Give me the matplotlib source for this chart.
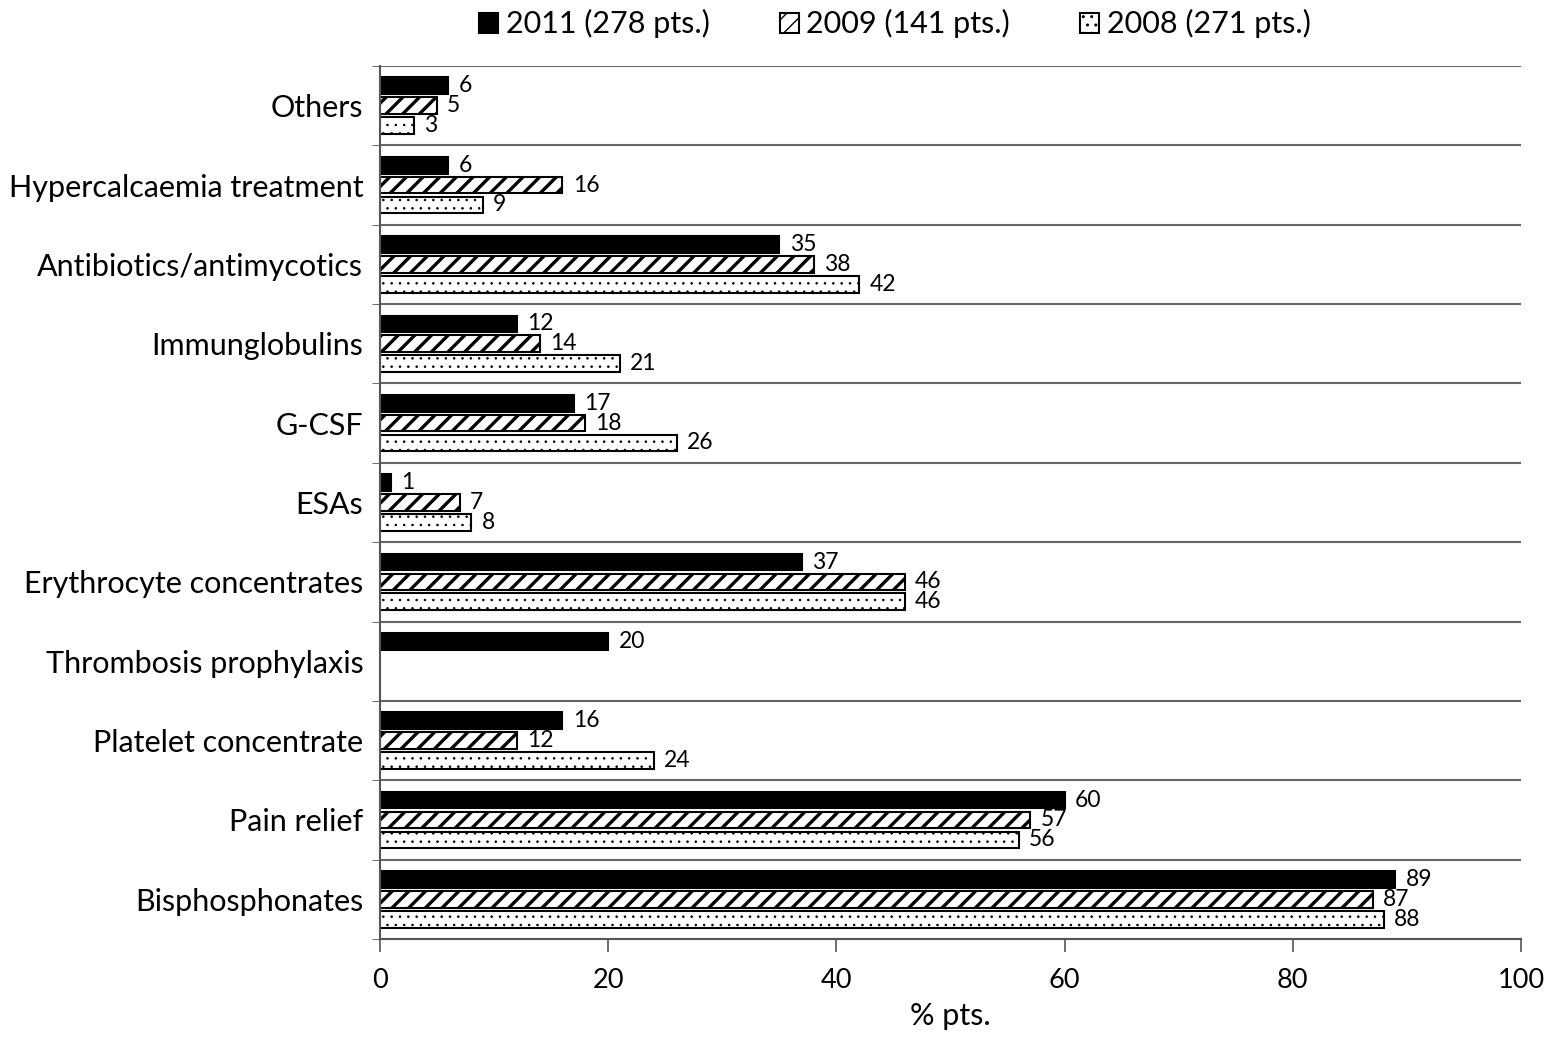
import numpy as np
import matplotlib
matplotlib.use("Agg")
import matplotlib.pyplot as plt
from matplotlib.patches import Patch

plt.rcParams['font.family'] = ['Lato', 'DejaVu Sans']

# categories, listed bottom to top
categories = ["Bisphosphonates", "Pain relief", "Platelet concentrate",
              "Thrombosis prophylaxis", "Erythrocyte concentrates", "ESAs",
              "G-CSF", "Immunglobulins", "Antibiotics/antimycotics",
              "Hypercalcaemia treatment", "Others"]
v2011 = [89, 60, 16, 20, 37, 1, 17, 12, 35, 6, 6]
v2009 = [87, 57, 12, None, 46, 7, 18, 14, 38, 16, 5]
v2008 = [88, 56, 24, None, 46, 8, 26, 21, 42, 9, 3]
series_labels = ["2011 (278 pts.)", "2009 (141 pts.)", "2008 (271 pts.)"]
x_ticks = [0, 20, 40, 60, 80, 100]

fig = plt.figure(figsize=(15.59, 10.39), dpi=100)
ax = fig.add_axes([0.2437, 0.0962, 0.7319, 0.8403])

y = np.arange(len(categories))
step = 0.25
h = 0.21
styles = [
    dict(color="black", edgecolor="black"),
    dict(color="white", edgecolor="black", hatch="//"),
    dict(color="white", edgecolor="black", hatch=".."),
]
hatch_lw = [1.0, 2.4, 0.6]
offsets = [step, 0, -step]


def make_bar(target, yy, w, st, lw):
    with plt.rc_context({"hatch.linewidth": lw}):
        bars = target.barh(yy, w, height=h, linewidth=1.5, **st)
    for b in bars:
        if hasattr(b, "set_hatch_linewidth"):
            b.set_hatch_linewidth(lw)
    return bars


for vals, st, off, lw in zip([v2011, v2009, v2008], styles, offsets, hatch_lw):
    for i, v in enumerate(vals):
        if v is None:
            continue
        make_bar(ax, y[i] + off, v, st, lw)
        ax.text(v + 0.9, y[i] + off, str(v), va="center", ha="left", fontsize=16.5)

ax.set_xlim(0, 100)
ax.set_ylim(-0.5, len(categories) - 0.5)
ax.set_xticks(x_ticks)
ax.set_xticklabels([str(t) for t in x_ticks], fontsize=19.5)
ax.tick_params(axis="x", length=9, width=1.2, color="#555555", pad=12)
ax.set_yticks(y)
ax.set_yticklabels(categories, fontsize=22)
ax.tick_params(axis="y", which="major", length=0, pad=12)
ax.set_yticks(np.arange(len(categories) + 1) - 0.5, minor=True)
ax.tick_params(axis="y", which="minor", length=6, color="#555555")
ax.grid(axis="y", which="minor", color="#666666", linewidth=1.5)
ax.set_axisbelow(True)

ax.spines["right"].set_visible(False)
ax.spines["top"].set_visible(False)
ax.spines["left"].set_color("#555555")
ax.spines["bottom"].set_color("#555555")
ax.spines["left"].set_linewidth(1.5)
ax.spines["bottom"].set_linewidth(1.5)

ax.set_xlabel("% pts.", fontsize=22, labelpad=6)

handles = []
for st, lw in zip(styles, hatch_lw):
    with plt.rc_context({"hatch.linewidth": lw}):
        p = Patch(facecolor=st["color"], edgecolor="black", hatch=st.get("hatch"), linewidth=1.5)
    if hasattr(p, "set_hatch_linewidth"):
        p.set_hatch_linewidth(lw)
    handles.append(p)
fig.legend(handles, series_labels, loc="center", bbox_to_anchor=(0.574, 0.977),
           ncol=3, frameon=False, fontsize=22, handlelength=0.62, handleheight=0.62,
           handletextpad=0.25, columnspacing=2.3, borderpad=0, borderaxespad=0)

fig.savefig("out.png", dpi=100)
